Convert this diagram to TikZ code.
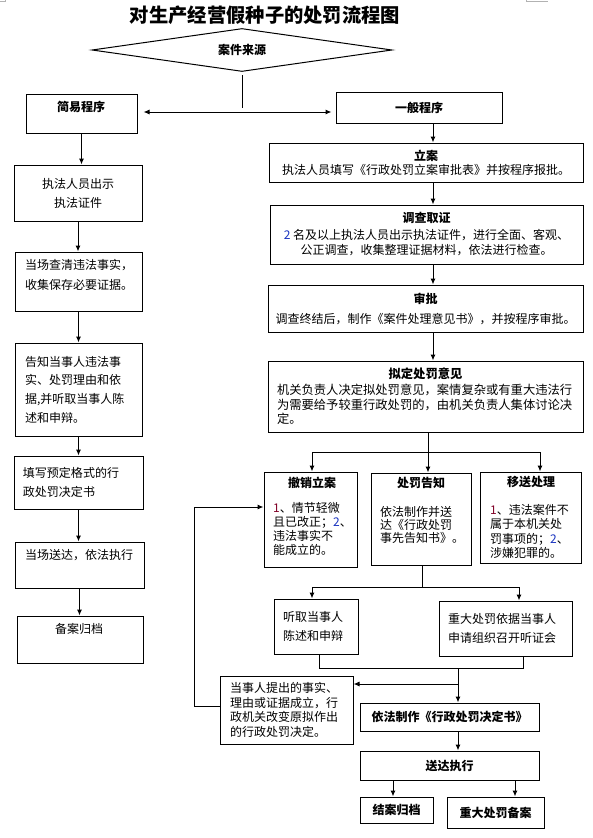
\documentclass[tikz,border=0pt]{standalone}
\usepackage{fontspec}
\setmainfont{Noto Sans CJK SC}
\usetikzlibrary{shapes.geometric,arrows.meta}
\definecolor{numred}{rgb}{0.5,0.0,0.15}
\definecolor{numblue}{rgb}{0.1,0.2,0.75}

\begin{document}
\begin{tikzpicture}[x=1pt, y=-1pt,
  box/.style={draw, line width=1pt, inner sep=0pt},
  bodytext/.style={font=\fontsize{12}{#1}\selectfont},
  bodytext/.default=15,
  headtext/.style={font=\fontsize{12}{15}\selectfont\bfseries},
  arr/.style={line width=1pt, -{Latex[length=6pt,width=5pt]}},
  link/.style={line width=1pt}]
\useasboundingbox (0,0) rectangle (593,838);
\draw[gray!60, line width=0.8pt] (0,1.5) -| (5,0);
\draw[gray!60, line width=0.8pt] (526,0) |- (548,1.5);

\node[font=\fontsize{19.3}{22}\selectfont\bfseries] (title) at (265,15) {对生产经营假种子的处罚流程图};
\node[draw, diamond, aspect=7, minimum width=300pt, minimum height=43pt, inner sep=0pt, line width=1pt, headtext] (source) at (242,50) {案件来源};

\node[box, minimum width=111pt, minimum height=39pt] (jianyi) at (81.5,113.5) {};
\node[headtext] (jianyi-t) at (81,107) {简易程序};
\node[box, headtext, minimum width=166pt, minimum height=31pt] (yiban) at (419,107.5) {一般程序};

\coordinate (fork) at (242,112);
\draw[link, shorten <=3pt, shorten >=4pt] (source.south) -- (fork);
\draw[link, {Latex[length=6pt,width=5pt]}-{Latex[length=6pt,width=5pt]}, shorten <=6pt, shorten >=4pt] (jianyi.east |- fork) -- (yiban.west |- fork);

% simple procedure
\node[box, bodytext=19, align=center, minimum width=128pt, minimum height=56pt] (zhengjian) at (78,193) {执法人员出示\\执法证件};
\node[box, minimum width=127pt, minimum height=59pt] (chaqing) at (78.5,281.5) {};
\node[bodytext=20, align=left, anchor=west, inner sep=0pt] (chaqing-t) at (25,275) {当场查清违法事实，\\收集保存必要证据。};
\node[box, bodytext=18.7, align=left, text width=107pt, inner xsep=10pt, minimum height=93pt] (gaozhi) at (78.5,389.5) {告知当事人违法事\\实、处罚理由和依\\据,并听取当事人陈\\述和申辩。};
\node[box, bodytext=19, align=left, text width=111pt, inner xsep=9pt, minimum height=53pt] (tianxie) at (78.5,482.5) {填写预定格式的行\\政处罚决定书};
\node[box, minimum width=129pt, minimum height=46pt] (songda1) at (79.5,565) {};
\node[bodytext, anchor=west, inner sep=0pt] (songda1-t) at (25,555) {当场送达，依法执行};
\node[box, minimum width=126pt, minimum height=47pt] (beian) at (80,639.5) {};
\node[bodytext] (beian-t) at (79,629) {备案归档};

\draw[arr] (jianyi.south) -- (jianyi.south |- zhengjian.north);
\draw[arr] (zhengjian.south) -- (zhengjian.south |- chaqing.north);
\draw[arr] (chaqing.south) -- (chaqing.south |- gaozhi.north);
\draw[arr] (gaozhi.south) -- (gaozhi.south |- tianxie.north);
\draw[arr] (tianxie.south) -- (tianxie.south |- songda1.north);
\draw[arr] (songda1.south) -- (songda1.south |- beian.north);

% general procedure
\node[box, bodytext=14, align=center, minimum width=314pt, minimum height=39pt] (lian) at (426,162.5) {\textbf{立案}\\执法人员填写《行政处罚立案审批表》并按程序报批。};
\node[box, bodytext=15, align=center, minimum width=313pt, minimum height=59pt] (diaocha) at (426.5,234.5) {\textbf{调查取证}\\[2pt]{\color{numblue}2} 名及以上执法人员出示执法证件，进行全面、客观、\\公正调查，收集整理证据材料，依法进行检查。};
\node[box, bodytext=15, align=center, minimum width=315pt, minimum height=47pt] (shenpi) at (425.5,308.5) {\textbf{审批}\\[5pt]调查终结后，制作《案件处理意见书》，并按程序审批。};
\node[box, font=\fontsize{12.3}{14.5}\selectfont, align=left, text width=297pt, inner xsep=9pt, minimum height=71pt] (niding) at (425.5,396.5) {\makebox[297pt]{\textbf{拟定处罚意见}}\\[1.5pt]机关负责人决定拟处罚意见，案情复杂或有重大违法行\\为需要给予较重行政处罚的，由机关负责人集体讨论决\\定。};

\coordinate (spine) at (433,0);
\draw[arr] (yiban.south -| spine) -- (lian.north -| spine);
\draw[arr] (lian.south -| spine) -- (diaocha.north -| spine);
\draw[arr] (diaocha.south -| spine) -- (shenpi.north -| spine);
\draw[arr] (shenpi.south -| spine) -- (niding.north -| spine);

\node[box, minimum width=93pt, minimum height=95pt] (chexiao) at (310.5,519.5) {};
\node[headtext] (chexiao-h) at (312,483) {撤销立案};
\node[bodytext=14, align=left, anchor=west, inner sep=0pt] (chexiao-t) at (273,529) {{\color{numred}1}、情节轻微\\且已改正；{\color{numblue}2}、\\违法事实不\\能成立的。};
\node[box, minimum width=100pt, minimum height=92pt] (gaozhi2) at (421,519) {};
\node[headtext] (gaozhi2-h) at (421,483) {处罚告知};
\node[bodytext=13, align=left, anchor=west, inner sep=0pt] (gaozhi2-t) at (380,525) {依法制作并送\\达《行政处罚\\事先告知书》。};
\node[box, minimum width=101pt, minimum height=91pt] (yisong) at (530.5,517.5) {};
\node[headtext] (yisong-h) at (531,482) {移送处理};
\node[bodytext=14.3, align=left, anchor=west, inner sep=0pt] (yisong-t) at (490,531.5) {{\color{numred}1}、违法案件不\\属于本机关处\\罚事项的；{\color{numblue}2}、\\涉嫌犯罪的。};

\coordinate (split) at (428,452);
\draw[link] (niding.south -| split) -- (split);
\draw[arr] (split) -| ([xshift=1.5pt]chexiao.north);
\draw[arr] (split) -- (split |- gaozhi2.north);
\draw[arr] (split) -| ([xshift=9.5pt]yisong.north);

\node[box, bodytext=19, align=left, text width=66pt, inner xsep=9pt, minimum height=55pt] (tingqu) at (316,626.5) {听取当事人\\陈述和申辩};
\node[box, bodytext=19, align=left, text width=115pt, inner xsep=9pt, minimum height=55pt] (zhongda) at (505.5,628.5) {重大处罚依据当事人\\申请组织召开听证会};

\coordinate (hear) at (422,587);
\draw[link] (gaozhi2.south -| hear) -- (hear);
\draw[arr] (hear) -| ([xshift=-4pt]tingqu.north);
\draw[arr] (hear) -| ([xshift=13.5pt]zhongda.north);

\node[box, bodytext=14.5, align=left, text width=113pt, inner xsep=10pt, minimum height=68pt] (dangshi) at (286.5,710) {当事人提出的事实、\\理由或证据成立，行\\政机关改变原拟作出\\的行政处罚决定。};
\node[box, headtext, minimum width=179pt, minimum height=28pt] (yifa) at (449.5,717) {依法制作《行政处罚决定书》};
\node[box, headtext, minimum width=179pt, minimum height=29pt] (songda2) at (449.5,765.5) {送达执行};
\node[box, headtext, minimum width=73pt, minimum height=26pt] (jiean) at (396.5,810) {结案归档};
\node[box, headtext, minimum width=97pt, minimum height=31pt] (zhongbei) at (495.5,812.5) {重大处罚备案};

\coordinate (merge) at (458,668);
\coordinate (back) at (458,684);
\draw[link] ([xshift=3pt]tingqu.south) |- (merge);
\draw[link] ([xshift=17.5pt]zhongda.south) |- (merge);
\draw[arr] (merge) -- (merge |- yifa.north);
\draw[arr] (back) -- (back -| dangshi.east);
\draw[arr] ([yshift=4pt]dangshi.west) -- ++(-25,0) |- ([yshift=12.5pt]chexiao.west);

\draw[arr] ([xshift=8.5pt]yifa.south) -- ([xshift=8.5pt]yifa.south |- songda2.north);
\draw[arr] ([xshift=-3.5pt]jiean.north |- songda2.south) -- ([xshift=-3.5pt]jiean.north);
\draw[arr] ([xshift=19.5pt]zhongbei.north |- songda2.south) -- ([xshift=19.5pt]zhongbei.north);
\end{tikzpicture}
\end{document}
